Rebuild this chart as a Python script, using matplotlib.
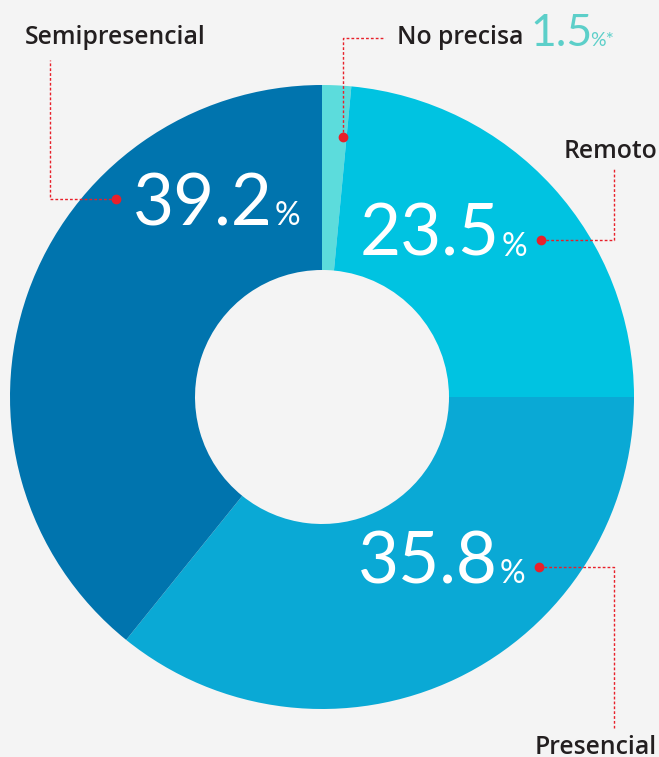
import matplotlib.pyplot as plt

labels = ['No precisa', 'Remoto', 'Presencial', 'Semipresencial']
values = [1.5, 23.5, 35.8, 39.2]
colors = ['#5CDCDC', '#00C3E1', '#0AA9D5', '#0074AE']

W, H = 659, 757
BG = '#F4F4F4'
RED = '#E8202A'
DARK = '#231F20'
TEAL = '#5CCFC9'
plt.rcParams['font.family'] = ['Lato', 'DejaVu Sans']
LABEL_FONT = dict(family=['Open Sans', 'DejaVu Sans'], fontsize=17.8,
                  fontweight='semibold', color=DARK)


def py(y):
    # pixel row (from top) -> data y
    return H - y


fig = plt.figure(figsize=(W / 100, H / 100), dpi=100, facecolor=BG)
ax = fig.add_axes([0, 0, 1, 1])
ax.set_xlim(0, W)
ax.set_ylim(0, H)
ax.set_aspect('equal')
ax.axis('off')

ax.pie(values, colors=colors, startangle=90, counterclock=False,
       center=(322, py(397)), radius=312,
       wedgeprops=dict(width=312 - 127, linewidth=0))
ax.set_xlim(0, W)
ax.set_ylim(0, H)

# big white numbers inside the ring: (number right edge x, baseline y)
inner = {'Remoto': (500, 256), 'Presencial': (498, 583), 'Semipresencial': (273, 225)}
for name, (x, y) in inner.items():
    v = values[labels.index(name)]
    ax.text(x, py(y), f'{v}', color='white', fontsize=51, ha='right',
            va='baseline')
    ax.text(x + 2, py(y), '%', color='white', fontsize=23, ha='left',
            va='baseline')

# leader lines: dot, corner, label anchor
leaders = {
    'Semipresencial': [(116, 199), (50, 199), (50, 60)],
    'Remoto': [(541, 240), (614, 240), (614, 168)],
    'Presencial': [(539, 567), (614, 567), (614, 728)],
    'No precisa': [(343, 137), (343, 38), (385, 38)],
}
for name, pts in leaders.items():
    xs = [p[0] for p in pts]
    ys = [py(p[1]) for p in pts]
    ax.plot(xs, ys, color=RED, lw=1, ls=(0, (2, 1.5)))
    ax.plot(xs[0], ys[0], 'o', color=RED, ms=6)

ax.text(25, py(37), 'Semipresencial', ha='left', va='center', **LABEL_FONT)
ax.text(657, py(152), 'Remoto', ha='right', va='center', **LABEL_FONT)
ax.text(657, py(747), 'Presencial', ha='right', va='center', **LABEL_FONT)
ax.text(397, py(37), 'No precisa', ha='left', va='center', **LABEL_FONT)
ax.text(530, py(46), f'{values[0]}', color=TEAL, fontsize=32,
        ha='left', va='baseline')
ax.text(590, py(46), '%*', color=TEAL, fontsize=14,
        ha='left', va='baseline')

fig.savefig('out.png', dpi=100, facecolor=BG)
